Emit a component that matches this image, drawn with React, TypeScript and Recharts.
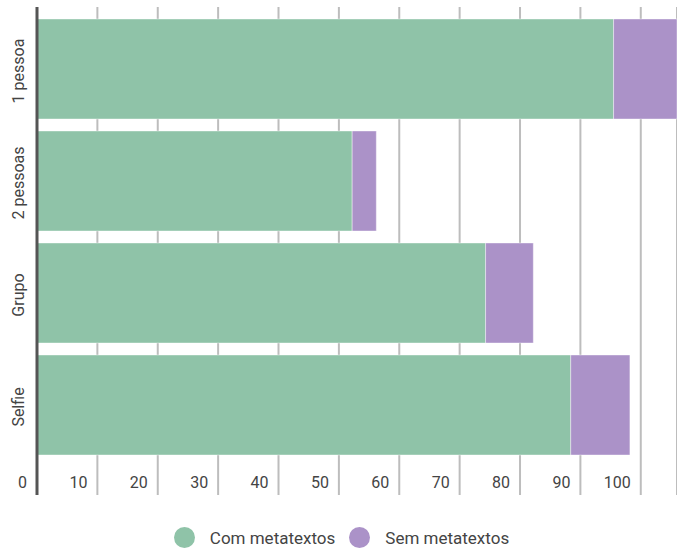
import { BarChart, Bar, XAxis, YAxis, CartesianGrid } from 'recharts';

const categories = ['1 pessoa', '2 pessoas', 'Grupo', 'Selfie'];
const comMetatextos = [95.5, 52.2, 74.3, 88.4];
const semMetatextos = [12, 4.0, 7.9, 9.8];
const xTicks = [0, 10, 20, 30, 40, 50, 60, 70, 80, 90, 100];

const seriesNames = ['Com metatextos', 'Sem metatextos'];
const GREEN = '#8fc3a8';
const PURPLE = '#ab92c8';
const TEXT = '#444444';
const FONT = 'Roboto, sans-serif';

const data = categories.map((name, i) => ({
  name,
  com: comMetatextos[i],
  sem: semMetatextos[i],
}));

function XTick(props: any) {
  const { x, payload } = props;
  return (
    <text x={x - 10} y={488} textAnchor="end" fill={TEXT} fontSize={16} fontFamily={FONT}>
      {payload.value}
    </text>
  );
}

function YTick(props: any) {
  const { y, payload } = props;
  return (
    <text
      transform={`translate(24, ${y + 2}) rotate(-90)`}
      textAnchor="middle"
      fill={TEXT}
      fontSize={16}
      fontFamily={FONT}
    >
      {payload.value}
    </text>
  );
}

export default function App() {
  return (
    <div style={{ position: 'absolute', left: 0, top: 0, width: 677, height: 551, background: '#fff' }}>
      <BarChart
        width={677}
        height={551}
        data={data}
        layout="vertical"
        margin={{ top: 7, right: 0, bottom: 0, left: 0 }}
      >
        <CartesianGrid horizontal={false} stroke="#bdbdbd" strokeWidth={2} />
        <XAxis
          type="number"
          domain={[0, 106]}
          ticks={xTicks}
          allowDataOverflow
          axisLine={false}
          tickLine={false}
          height={56}
          tick={<XTick />}
          interval={0}
        />
        <YAxis
          type="category"
          dataKey="name"
          width={37}
          padding={{ top: 6, bottom: 34 }}
          axisLine={{ stroke: '#555555', strokeWidth: 3 }}
          tickLine={false}
          tick={<YTick />}
        />
        <Bar dataKey="com" name={seriesNames[0]} stackId="a" fill={GREEN} barSize={100}
          stroke="#ffffff" strokeOpacity={0.4} strokeWidth={1} isAnimationActive={false} />
        <Bar dataKey="sem" name={seriesNames[1]} stackId="a" fill={PURPLE} barSize={100}
          stroke="#ffffff" strokeOpacity={0.4} strokeWidth={1} isAnimationActive={false} />
      </BarChart>
      <div
        style={{
          position: 'absolute',
          left: 3,
          top: 527,
          width: 677,
          display: 'flex',
          justifyContent: 'center',
          alignItems: 'center',
          fontFamily: FONT,
          fontSize: 17,
          color: TEXT,
        }}
      >
        {seriesNames.map((n, i) => (
          <div key={n} style={{ display: 'flex', alignItems: 'center', marginRight: i === 0 ? 14 : 0 }}>
            <span
              style={{
                width: 21,
                height: 21,
                borderRadius: '50%',
                background: i === 0 ? GREEN : PURPLE,
                display: 'inline-block',
                marginRight: 15,
              }}
            />
            <span>{n}</span>
          </div>
        ))}
      </div>
    </div>
  );
}
